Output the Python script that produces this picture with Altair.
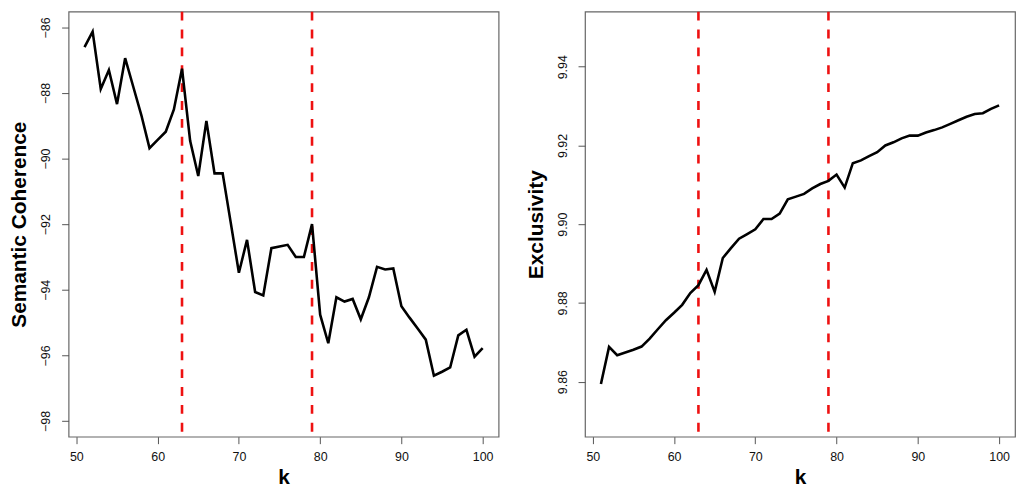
import altair as alt
import pandas as pd

k_values = list(range(51, 101))

coherence = [
    -86.60, -86.13, -87.88, -87.30, -88.34, -86.94, -87.81, -88.68, -89.68, -89.43,
    -89.18, -88.50, -87.26, -89.46, -90.53, -88.85, -90.45, -90.45, -91.96, -93.48,
    -92.48, -94.07, -94.17, -92.73, -92.68, -92.63, -93.00, -93.00, -92.00, -94.76,
    -95.63, -94.23, -94.36, -94.28, -94.90, -94.23, -93.30, -93.38, -93.35, -94.50,
    -94.85, -95.18, -95.52, -96.62, -96.50, -96.37, -95.39, -95.22, -96.04, -95.78,
]

exclusivity = [
    9.8594, 9.8688, 9.8667, 9.8674, 9.8681, 9.8689, 9.8709, 9.8733, 9.8756, 9.8775,
    9.8795, 9.8825, 9.8845, 9.8884, 9.8828, 9.8914, 9.8939, 9.8963, 9.8975, 9.8987,
    9.9013, 9.9013, 9.9027, 9.9063, 9.9070, 9.9077, 9.9091, 9.9102, 9.9110, 9.9126,
    9.9093, 9.9155, 9.9162, 9.9173, 9.9183, 9.9200, 9.9208, 9.9218, 9.9225, 9.9225,
    9.9233, 9.9239, 9.9246, 9.9255, 9.9264, 9.9273, 9.9280, 9.9282, 9.9293, 9.9302,
]

cutoffs = [63, 79]

x_ticks = [50, 60, 70, 80, 90, 100]
coh_ticks = [-98, -96, -94, -92, -90, -88, -86]
exc_ticks = [9.86, 9.88, 9.90, 9.92, 9.94]

df_coh = pd.DataFrame({"k": k_values, "v": coherence})
df_exc = pd.DataFrame({"k": k_values, "v": exclusivity})
df_cut = pd.DataFrame({"k": cutoffs})

W, H = 433, 428

x_scale = alt.Scale(domain=[49.04, 101.96], nice=False, zero=False)
x_axis = alt.Axis(values=x_ticks, format="d", title="k", labelPadding=7, titlePadding=4)


def panel(df, title, domain, ticks, fmt):
    y_scale = alt.Scale(domain=domain, nice=False, zero=False)
    y_axis = alt.Axis(values=ticks, format=fmt, title=title, labelAngle=-90,
                      labelAlign="center", labelBaseline="bottom",
                      labelPadding=9, titlePadding=10)
    line = alt.Chart(df).mark_line(color="black", strokeWidth=2.6, clip=True).encode(
        x=alt.X("k:Q", scale=x_scale, axis=x_axis),
        y=alt.Y("v:Q", scale=y_scale, axis=y_axis),
    )
    rules = alt.Chart(df_cut).mark_rule(color="#ee1111", strokeWidth=2.6,
                                         strokeDash=[9, 9]).encode(
        x=alt.X("k:Q", scale=x_scale)
    )
    return alt.layer(rules, line).properties(width=W, height=H)


left = panel(df_coh, "Semantic Coherence", [-98.48, -85.52], coh_ticks, "d")
right = panel(df_exc, "Exclusivity", [9.846, 9.954], exc_ticks, ".2f")

chart = alt.hconcat(left, right, spacing=87, bounds="flush").properties(
    padding={"left": 0, "top": 0, "right": 0, "bottom": 0}
).configure_view(
    stroke="#666666", strokeWidth=1.2
).configure_axis(
    grid=False, domain=False, tickSize=7, tickColor="#555555", tickWidth=1,
    labelFont="Liberation Sans", labelFontSize=12.5, labelColor="#111111",
    titleFont="Liberation Sans", titleFontSize=21, titleFontWeight="bold",
    titleColor="black",
)

chart.save("out.html", embed_options={"renderer": "svg", "actions": False})
